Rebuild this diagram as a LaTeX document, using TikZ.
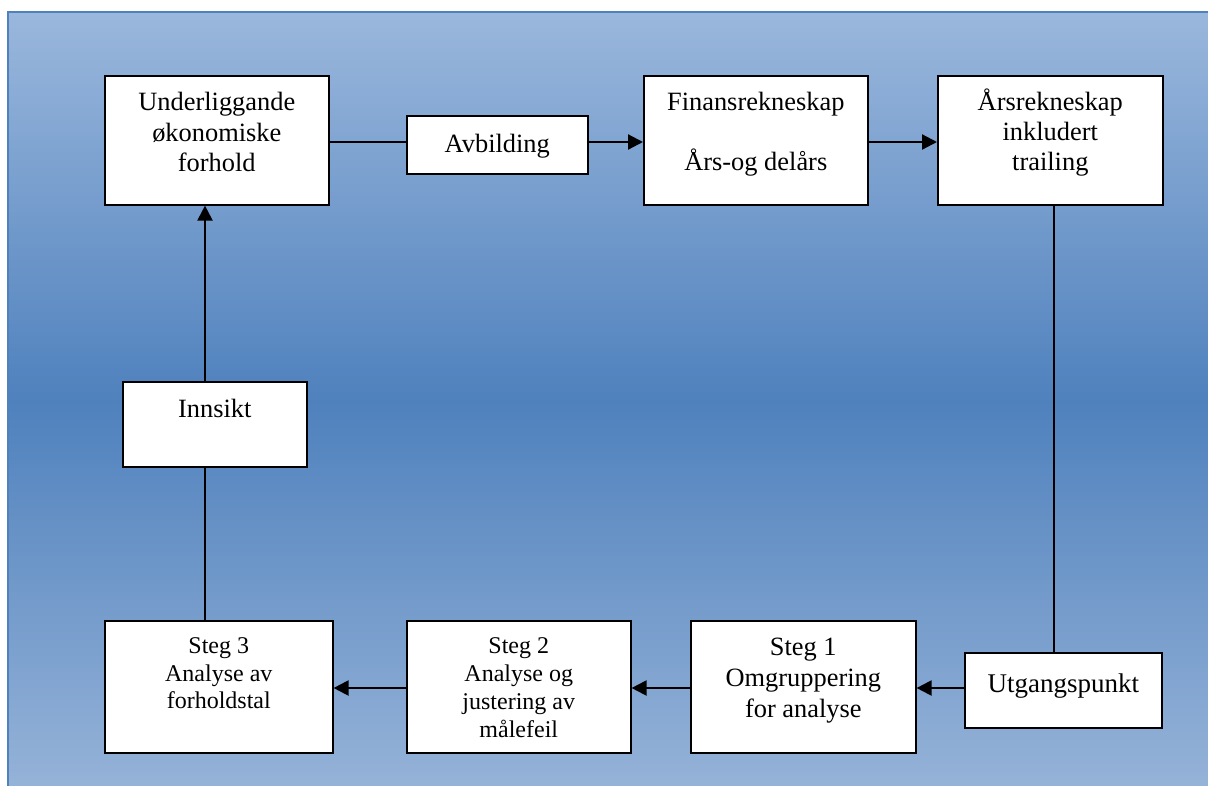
\documentclass[tikz,border=0pt]{standalone}
\usepackage{fontspec}
\setmainfont{Liberation Serif}
\usetikzlibrary{arrows.meta}

\definecolor{bgtop}{HTML}{9AB7DC}
\definecolor{bgmid}{HTML}{4F81BD}
\definecolor{bgbot}{HTML}{96B3D8}
\definecolor{framecol}{HTML}{4F81BD}

% box body: width, height, first-baseline depth, font size, leading, text
\newcommand{\boxbody}[6]{%
  \parbox[t][#2][t]{#1}{\centering\fontsize{#4}{#5}\selectfont\rule{0pt}{#3}#6}}

\tikzset{
  stepbox/.style={draw=black, line width=1.6pt, fill=white, inner sep=0pt, anchor=north west},
  arr/.style={draw=black, line width=2.2pt, -{Triangle[length=15pt,width=15pt]}},
  link/.style={draw=black, line width=1.6pt},
}

\begin{document}
\begin{tikzpicture}[x=1pt, y=-1pt]
\useasboundingbox (0,0) rectangle (1208,785);

% gradient panel, built from thin horizontal strips
\begin{scope}
  \clip (0,0) rectangle (1208,785);
  \foreach \i in {0,...,194} {
    \pgfmathsetmacro{\ya}{12+4*\i}
    \pgfmathsetmacro{\yb}{\ya+4.6}
    \pgfmathsetmacro{\t}{min(100,abs(\ya+2-402)/388*100)}
    \ifdim\ya pt<402pt
      \fill[bgtop!\t!bgmid] (8,\ya) rectangle (1220,\yb);
    \else
      \fill[bgbot!\t!bgmid] (8,\ya) rectangle (1220,\yb);
    \fi
  }
  \draw[framecol, line width=2pt] (8,800) -- (8,12) -- (1220,12);
\end{scope}

% upper row
\node[stepbox] (und) at (104,75)
  {\boxbody{224pt}{129pt}{35pt}{26.4pt}{30.5pt}{Underliggande\\ økonomiske\\ forhold}};
\node[stepbox] (avb) at (406,115)
  {\boxbody{181pt}{58pt}{37pt}{26.4pt}{30.5pt}{Avbilding}};
\node[stepbox] (fin) at (643,75)
  {\boxbody{224pt}{129pt}{35pt}{26.4pt}{30pt}{Finansrekneskap\\[30pt]Års-og delårs}};
\node[stepbox] (ars) at (937,75)
  {\boxbody{225pt}{129pt}{35pt}{26.4pt}{30pt}{Årsrekneskap\\ inkludert\\ trailing}};

% left column
\node[stepbox] (inn) at (122,381)
  {\boxbody{184pt}{85pt}{36pt}{26.4pt}{30pt}{Innsikt}};

% lower row
\node[stepbox] (s3) at (104,620)
  {\boxbody{228pt}{132pt}{33pt}{24pt}{27.5pt}{Steg 3\\ Analyse av\\ forholdstal}};
\node[stepbox] (s2) at (406,620)
  {\boxbody{224pt}{132pt}{33pt}{24pt}{28pt}{Steg 2\\ Analyse og\\ justering av\\ målefeil}};
\node[stepbox] (s1) at (690,620)
  {\boxbody{225pt}{132pt}{35pt}{26.4pt}{31pt}{Steg 1\\ Omgruppering\\ for analyse}};
\node[stepbox] (utg) at (964,652)
  {\boxbody{197pt}{75pt}{40pt}{27pt}{31pt}{Utgangspunkt}};

% connector guides
\coordinate (colL) at (205,0);
\coordinate (colR) at (1054,0);
\coordinate (rowT) at (0,142);
\coordinate (rowB) at (0,688);

% connectors
\draw[link] (und.east |- rowT) -- (avb.west |- rowT);
\draw[arr] (avb.east |- rowT) -- (fin.west |- rowT);
\draw[arr] (fin.east |- rowT) -- (ars.west |- rowT);
\draw[link] (ars.south -| colR) -- (utg.north -| colR);
\draw[arr] (utg.west |- rowB) -- (s1.east |- rowB);
\draw[arr] (s1.west |- rowB) -- (s2.east |- rowB);
\draw[arr] (s2.west |- rowB) -- (s3.east |- rowB);
\draw[link] (s3.north -| colL) -- (inn.south -| colL);
\draw[arr] (inn.north -| colL) -- (und.south -| colL);
\end{tikzpicture}
\end{document}
